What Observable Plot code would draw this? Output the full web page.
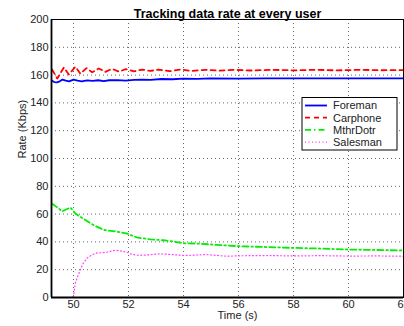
<!DOCTYPE html>
<html><head><meta charset="utf-8">
<script src="https://cdn.jsdelivr.net/npm/d3@7"></script>
<script src="https://cdn.jsdelivr.net/npm/@observablehq/plot@0.6"></script>
<style>html,body{margin:0;padding:0;background:#fff;overflow:hidden}</style>
</head><body><div id="chart"></div>
<script>
// ---- data ----
const seriesNames = ["Foreman", "Carphone", "MthrDotr", "Salesman"];

const foremanT = [49.22,49.3,49.4,49.5,49.6,49.72,49.84,50.0,50.15,50.3,50.5,50.7,50.9,51.1,51.3,51.6,51.9,52.2,52.5,52.8,53.2,53.6,54.0,54.5,55.0,56.0,57.0,58.0,59.0,60.0,61.0,62.0];
const foremanV = [156,155,154.8,155.5,156.8,156,155.5,156.8,156,155.5,156.2,155.8,156.3,155.7,156.3,156.4,156,156.6,156.8,156.6,157.2,157,157.5,157.3,157.6,157.5,157.7,157.6,157.7,157.6,157.7,157.6];

const carphoneT = [49.22,49.41,49.65,49.83,50.07,50.25,50.47,50.68,50.92,51.16,51.4,51.65,51.9,52.2,52.5,52.8,53.1,53.5,53.9,54.3,54.8,55.3,55.8,56.5,57.2,58.0,58.8,59.6,60.4,61.2,62.0];
const carphoneV = [164,157.5,165.5,160.5,166,161,165,162,164.8,162.3,164.5,162.5,164.3,162.7,164,163,164,162.8,164,163,163.8,163.2,163.8,163.3,163.8,163.4,163.8,163.4,163.8,163.5,163.6];

const mthrdotrT = [49.22,49.4,49.59,49.75,49.89,50.07,50.37,50.74,51.1,51.53,51.95,52.3,52.8,53.28,53.7,54.0,54.5,55.2,56.0,57.0,58.0,59.0,60.0,61.0,62.0];
const mthrdotrV = [67.5,65,62,63.5,64.7,60.4,56.5,52,48.6,47.5,46,43.2,41.8,41.2,40,39,38.8,37.9,36.9,36.3,35.7,35.2,34.5,34.2,33.8];

const salesmanT = [49.22,49.95,50.0,50.07,50.15,50.25,50.35,50.5,50.7,50.86,51.0,51.2,51.4,51.53,51.7,51.95,52.1,52.3,52.6,52.9,53.16,53.5,54.0,54.4,54.8,55.2,55.6,56.0,57.0,58.0,59.0,60.0,61.0,62.0];
const salesmanV = [0,0,1,10.6,15,20,24.5,28.5,31,32.1,32.2,32.5,33.6,34,33.5,32.6,31.2,30.4,30.5,31,31.4,31,30.2,30.5,30.9,30.3,29.7,30,30.2,29.9,30.1,29.8,29.9,29.7];

const xTicks = [50, 52, 54, 56, 58, 60, 62];
const yTicks = [0, 20, 40, 60, 80, 100, 120, 140, 160, 180, 200];
const titleText = "Tracking data rate at every user";
const xLabel = "Time (s)";
const yLabel = "Rate (Kbps)";

// ---- styles ----
const styleOf = {
  Foreman:  {stroke: "#0000ff", dash: null,        width: 1.8},
  Carphone: {stroke: "#ff0000", dash: "5,4",       width: 1.8},
  MthrDotr: {stroke: "#00ee00", dash: "6,3,1.5,3", width: 1.8},
  Salesman: {stroke: "#ff44ff", dash: "1,2.5",     width: 1.2}
};

const cols = {Foreman: [foremanT, foremanV], Carphone: [carphoneT, carphoneV], MthrDotr: [mthrdotrT, mthrdotrV], Salesman: [salesmanT, salesmanV]};
const rows = seriesNames.flatMap(name => cols[name][0].map((t, i) => ({series: name, t, v: cols[name][1][i]})));

const lineMarks = seriesNames.map(name => Plot.line(rows.filter(d => d.series === name), {
  x: "t", y: "v", stroke: styleOf[name].stroke, strokeWidth: styleOf[name].width,
  strokeDasharray: styleOf[name].dash, strokeLinejoin: "round"
}));

const chart = Plot.plot({
  width: 404, height: 326,
  marginLeft: 51, marginRight: 1, marginTop: 19, marginBottom: 29,
  style: {fontFamily: "'Liberation Sans', Arial, sans-serif", fontSize: "11px", color: "#000", background: "#fff", overflow: "hidden"},
  x: {domain: [49.2, 62], ticks: xTicks},
  y: {domain: [0, 200], ticks: yTicks},
  marks: [
    Plot.gridX(xTicks, {stroke: "#666", strokeOpacity: 1, strokeDasharray: "1,3"}),
    Plot.gridY(yTicks, {stroke: "#666", strokeOpacity: 1, strokeDasharray: "1,3"}),
    ...lineMarks,
    Plot.frame({stroke: "#000", strokeWidth: 1}),
    Plot.ruleX([49.2], {stroke: "#000", strokeWidth: 1.8}),
    Plot.ruleY([0], {stroke: "#000", strokeWidth: 1.8}),
    Plot.axisX(xTicks, {tickSize: 0, tickPadding: 3, label: null, fill: "#222", fontSize: 11}),
    Plot.axisY(yTicks, {tickSize: 0, tickPadding: 3, label: null, fill: "#222", fontSize: 11}),
    Plot.text([titleText], {frameAnchor: "top", dy: -10, fontWeight: "bold", fontSize: 12.5, fill: "#000"}),
    Plot.text([xLabel], {frameAnchor: "bottom", dy: 21.5, dx: 10, fontSize: 11, fill: "#222"}),
    Plot.text([yLabel], {frameAnchor: "left", dx: -29, rotate: -90, fontSize: 11, fill: "#222"})
  ]
});
document.getElementById("chart").appendChild(chart);

// ---- legend (inside the plot, top-right) ----
const svg = d3.select(chart);
const lg = svg.append("g").attr("transform", "translate(302,97.5)");
lg.append("rect").attr("width", 95).attr("height", 52.5).attr("fill", "#fff").attr("stroke", "#000").attr("stroke-width", 1);
seriesNames.forEach((name, i) => {
  const y = 8 + i * 12.2;
  lg.append("line").attr("x1", 3).attr("x2", 25).attr("y1", y).attr("y2", y)
    .attr("stroke", styleOf[name].stroke).attr("stroke-width", styleOf[name].width)
    .attr("stroke-dasharray", styleOf[name].dash);
  lg.append("text").attr("x", 31).attr("y", y).attr("dy", "0.35em").attr("text-anchor", "start")
    .attr("font-family", "'Liberation Sans', Arial, sans-serif").attr("font-size", 11).attr("fill", "#222").text(name);
});
</script></body></html>
